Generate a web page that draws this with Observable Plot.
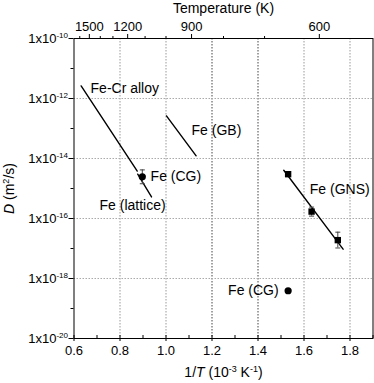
<!DOCTYPE html>
<html><head><meta charset="utf-8">
<script src="https://cdn.jsdelivr.net/npm/d3@7"></script>
<script src="https://cdn.jsdelivr.net/npm/@observablehq/plot@0.6"></script>
<style>body{margin:0;background:#fff;}</style>
</head><body><div id="chart"></div>
<script>
// ---- tick / grid values ----
const xGridLight = [0.8, 1.0, 1.6, 1.8];
const xGridDark = [1.2, 1.4];
const xMajor = [0.6, 0.8, 1.0, 1.2, 1.4, 1.6, 1.8];
const xMinor = [0.7, 0.9, 1.1, 1.3, 1.5, 1.7, 1.9];
const yMajor = [1e-20, 1e-18, 1e-16, 1e-14, 1e-12, 1e-10];
const yMinor = [1e-19, 1e-17, 1e-15, 1e-13, 1e-11];
const yGrid = [1e-18, 1e-16, 1e-14, 1e-12];
const tempMajor = [1500, 1200, 900, 600];
const tempMinor = [1600, 1400, 1300, 1100, 1000, 800, 700];

// ---- line segments (1/T in 1e-3 K^-1, D in m^2/s) ----
const lineSeries = ["Fe-Cr alloy", "Fe-Cr alloy", "Fe (lattice)", "Fe (lattice)", "Fe (GB)", "Fe (GB)", "Fe (GNS) fit", "Fe (GNS) fit"];
const lineX = [0.631, 0.875, 0.877, 0.937, 1.002, 1.131, 1.512, 1.770];
const lineD = [2.63e-12, 3.8e-15, 3.0e-15, 5.25e-16, 2.63e-13, 1.23e-14, 4.07e-15, 9.5e-18];

// ---- points ----
const cgX = [0.897, 1.531];
const cgD = [2.45e-15, 3.9e-19];
const gnsX = [1.531, 1.633, 1.747];
const gnsD = [3.0e-15, 1.7e-16, 1.9e-17];
const errX = [0.897, 1.531, 1.633, 1.747];
const errLo = [1.44e-15, 2.5e-15, 1.2e-16, 1.04e-17];
const errHi = [4.17e-15, 3.6e-15, 2.4e-16, 3.5e-17];

// ---- annotations ----
const labelText = ["Fe-Cr alloy", "Fe (GB)", "Fe (CG)", "Fe (lattice)", "Fe (GNS)", "Fe (CG)"];
const labelX = [0.672, 1.111, 0.933, 0.711, 1.625, 1.270];
const labelD = [2.1e-12, 8.3e-14, 2.6e-15, 2.8e-16, 9.5e-16, 3.9e-19];

const lines = lineX.map((x, i) => ({x, y: lineD[i], s: lineSeries[i]}));
const cg = cgX.map((x, i) => ({x, y: cgD[i]}));
const gns = gnsX.map((x, i) => ({x, y: gnsD[i]}));
const errs = errX.map((x, i) => ({x, lo: errLo[i], hi: errHi[i]}));
const labels = labelText.map((t, i) => ({t, x: labelX[i], y: labelD[i]}));

const cap = {draw(ctx, size) { const r = Math.sqrt(size / Math.PI); ctx.moveTo(-r, 0); ctx.lineTo(r, 0); }};
const expOf = d => Math.round(Math.log10(d));
const noLabel = () => "";

const chart = Plot.plot({
  width: 374, height: 383,
  marginLeft: 73.5, marginRight: 1.5, marginTop: 38, marginBottom: 45,
  style: {fontFamily: "'Liberation Sans', Arial, sans-serif", fontSize: "13px", color: "black", background: "white"},
  x: {domain: [0.6, 1.9]},
  y: {type: "log", domain: [1e-20, 1e-10]},
  marks: [
    Plot.gridX(xGridLight, {stroke: "#999", strokeOpacity: 1, strokeDasharray: "1.5,1.5"}),
    Plot.gridX(xGridDark, {stroke: "#444", strokeOpacity: 1, strokeDasharray: "1.5,1.5"}),
    Plot.gridY(yGrid, {stroke: "#aaa", strokeOpacity: 1, strokeDasharray: "1.5,1.5"}),
    Plot.frame({stroke: "black"}),
    // bottom axis
    Plot.axisX(xMajor, {anchor: "bottom", tickSize: 3, tickPadding: 4, tickFormat: d => d.toFixed(1),
      label: "1/T (10|-3| K|-1|)", labelAnchor: "center", labelArrow: "none", labelOffset: 38}),
    Plot.axisX(xMajor, {anchor: "bottom", tickSize: -3, tickFormat: noLabel, label: null}),
    Plot.axisX(xMinor, {anchor: "bottom", tickSize: -3, tickFormat: noLabel, label: null}),
    // top axis (temperature)
    Plot.axisX(tempMajor.map(t => 1000 / t), {anchor: "top", tickSize: 5, tickPadding: 3,
      tickFormat: d => String(Math.round(1000 / d)),
      label: "Temperature (K)", labelAnchor: "center", labelArrow: "none"}),
    Plot.axisX(tempMinor.map(t => 1000 / t), {anchor: "top", tickSize: 3, tickFormat: noLabel, label: null}),
    // left axis
    Plot.axisY(yMajor, {anchor: "left", tickSize: 5, tickPadding: 1,
      tickFormat: d => "1x10|" + expOf(d),
      label: "D (m|2|/s)", labelAnchor: "center", labelArrow: "none", labelOffset: 70}),
    Plot.axisY(yMinor, {anchor: "left", tickSize: 3, tickFormat: noLabel, label: null}),
    // data
    Plot.line(lines, {x: "x", y: "y", z: "s", stroke: "black", strokeWidth: 1.4}),
    Plot.ruleX(errs, {x: "x", y1: "lo", y2: "hi", stroke: "#444", strokeWidth: 1}),
    Plot.dot(errs, {x: "x", y: "lo", symbol: cap, r: 2.5, fill: "none", stroke: "#444", strokeWidth: 1}),
    Plot.dot(errs, {x: "x", y: "hi", symbol: cap, r: 2.5, fill: "none", stroke: "#444", strokeWidth: 1}),
    Plot.dot(cg, {x: "x", y: "y", r: 3.6, fill: "black", stroke: "none"}),
    Plot.dot(gns, {x: "x", y: "y", symbol: "square", r: 3.6, fill: "black", stroke: "none"}),
    Plot.text(labels, {x: "x", y: "y", text: "t", textAnchor: "start", fontSize: 14, fill: "black"})
  ]
});
document.getElementById("chart").appendChild(chart);

// ---- rich text: superscripts and italics ----
const svg = d3.select(chart.tagName.toLowerCase() === "svg" ? chart : chart.querySelector("svg"));
svg.selectAll('g[aria-label="y-axis tick label"] text').each(function() {
  const t = d3.select(this);
  const txt = t.text();
  if (!txt.includes("|")) return;
  const [base, exp] = txt.split("|");
  t.text(null);
  t.append("tspan").text(base);
  t.append("tspan").attr("dy", "-0.55em").attr("font-size", "8px").text(exp);
});
function rich(sel, parts) {
  sel.each(function() {
    const t = d3.select(this);
    t.text(null).attr("font-size", "14px");
    let shift = 0;
    for (const p of parts) {
      const s = t.append("tspan").text(p.text);
      const target = p.sup ? -5 : 0;
      if (target !== shift) { s.attr("dy", target - shift); shift = target; }
      if (p.sup) s.attr("font-size", "9px");
      if (p.it) s.attr("font-style", "italic");
    }
  });
}
rich(svg.selectAll('g[aria-label="y-axis label"] text'), [
  {text: "D", it: true}, {text: " (m"}, {text: "2", sup: true}, {text: "/s)"}
]);
rich(svg.selectAll('g[aria-label="x-axis label"] text').filter(function() { return d3.select(this).text().startsWith("1/T"); }), [
  {text: "1/"}, {text: "T", it: true}, {text: " (10"}, {text: "-3", sup: true}, {text: " K"}, {text: "-1", sup: true}, {text: ")"}
]);
svg.selectAll('g[aria-label="x-axis label"] text').filter(function() { return d3.select(this).text().startsWith("Temp"); }).attr("font-size", "14px");
</script>
</body></html>
